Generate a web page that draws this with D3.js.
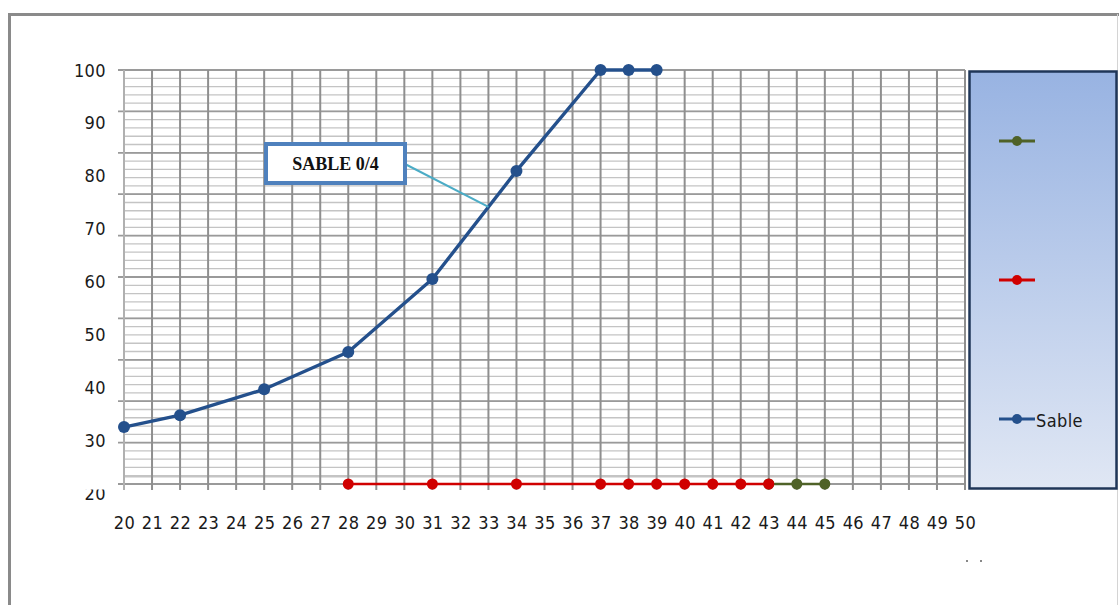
<!DOCTYPE html>
<html>
<head>
<meta charset="utf-8">
<script src="https://cdn.jsdelivr.net/npm/d3@7"></script>
<style>
  html, body { margin: 0; padding: 0; background: #fff; }
  svg { display: block; }
  .lbl { font-family: "Liberation Sans Narrow", "DejaVu Sans Condensed", "Liberation Sans", Arial, sans-serif;
         font-stretch: condensed; font-size: 18px; letter-spacing: 0.4px; fill: #1a1a1a; }
</style>
</head>
<body>
<svg id="chart" width="1119" height="605"></svg>
<script>
// Category axis labels (one gridline per category)
const categories = ["20","21","22","23","24","25","26","27","28","29","30","31","32","33","34","35",
                    "36","37","38","39","40","41","42","43","44","45","46","47","48","49","50"];

// Value axis labels
const yTickLabels = [100, 90, 80, 70, 60, 50, 40, 30, 20];

// Series: Sable
const sableCats = ["20","22","25","28","31","34","37","38","39"];
const sableVals = [31, 33.3, 38.3, 45.5, 59.6, 80.5, 100, 100, 100];

// Series: red
const redCats = ["28","31","34","37","38","39","40","41","42","43"];
const redVals = [20, 20, 20, 20, 20, 20, 20, 20, 20, 20];

// Series: green
const greenCats = ["43","44","45"];
const greenVals = [20, 20, 20];

// Legend entries (top to bottom)
const legendNames = ["", "", "Sable"];

const colors = { sable: "#24508c", red: "#d00000", green: "#4f6228" };

const svg = d3.select("#chart");

// Outer chart frame
svg.append("path")
  .attr("d", "M9.5,605 L9.5,14.5 L1119,14.5")
  .attr("fill", "none").attr("stroke", "#8a8a8a").attr("stroke-width", 3);
svg.append("line")
  .attr("x1", 1117.5).attr("x2", 1117.5).attr("y1", 14).attr("y2", 605)
  .attr("stroke", "#d4d4d4").attr("stroke-width", 1);

const plot = { left: 124, right: 965, top: 70, bottom: 484 };

const x = d3.scalePoint().domain(categories).range([plot.left, plot.right]);
const y = d3.scaleLinear().domain([20, 100]).range([plot.bottom, plot.top]);
// Value labels sit on their own spacing along the axis
const yLabel = d3.scaleLinear().domain([20, 100]).range([493, 70]);

const grid = svg.append("g");

// Minor horizontal gridlines
const minorVals = d3.range(0, 51).map(i => 20 + i * 1.6);
grid.selectAll("line.minor").data(minorVals).join("line")
  .attr("x1", plot.left).attr("x2", plot.right)
  .attr("y1", d => y(d)).attr("y2", d => y(d))
  .attr("stroke", "#c4c4c4").attr("stroke-width", 1.3);
// Doubled line just above the axis
grid.append("line")
  .attr("x1", plot.left).attr("x2", plot.right)
  .attr("y1", y(21.4)).attr("y2", y(21.4))
  .attr("stroke", "#c4c4c4").attr("stroke-width", 1.3);

// Major horizontal gridlines (with tick marks out to the left)
const majorVals = d3.range(0, 11).map(i => 20 + i * 8);
grid.selectAll("line.major").data(majorVals).join("line")
  .attr("x1", plot.left - 6).attr("x2", plot.right)
  .attr("y1", d => y(d)).attr("y2", d => y(d))
  .attr("stroke", "#9a9a9a").attr("stroke-width", 1.8);

// Vertical gridlines at every category, with ticks below the axis
grid.selectAll("line.v").data(categories).join("line")
  .attr("x1", d => x(d)).attr("x2", d => x(d))
  .attr("y1", plot.top).attr("y2", plot.bottom + 6)
  .attr("stroke", d => d === "20" ? "#b0b0b0" : "#8f8f8f")
  .attr("stroke-width", 2);

// Category labels
svg.append("g").selectAll("text").data(categories).join("text")
  .attr("class", "lbl")
  .attr("x", d => x(d) + 0.5).attr("y", 522)
  .attr("text-anchor", "middle").attr("dominant-baseline", "central")
  .text(d => d);

// Value labels
svg.append("g").selectAll("text").data(yTickLabels).join("text")
  .attr("class", "lbl")
  .attr("x", 106).attr("y", d => yLabel(d))
  .attr("text-anchor", "end").attr("dominant-baseline", "central")
  .text(d => d);
// The lowest label is partly hidden under the plot edge
svg.append("rect").attr("x", 70).attr("y", 477).attr("width", 44).attr("height", 12.5).attr("fill", "#fff");

// Series drawing
const line = d3.line().x(d => x(d.c)).y(d => y(d.v));
function drawSeries(cats, vals, color, width, r) {
  const pts = cats.map((c, i) => ({ c, v: vals[i] }));
  const g = svg.append("g");
  g.append("path").datum(pts).attr("d", line)
    .attr("fill", "none").attr("stroke", color).attr("stroke-width", width)
    .attr("stroke-linejoin", "round");
  g.selectAll("circle").data(pts).join("circle")
    .attr("cx", d => x(d.c)).attr("cy", d => y(d.v)).attr("r", r)
    .attr("fill", color);
}
drawSeries(greenCats, greenVals, colors.green, 2.6, 5.5);
drawSeries(redCats, redVals, colors.red, 2.6, 5.5);
drawSeries(sableCats, sableVals, colors.sable, 3.4, 6);

// Callout pointing at the Sable curve between 31 and 34
const i31 = sableCats.indexOf("31"), i34 = sableCats.indexOf("34");
const anchorX = x("33");
const t = (anchorX - x("31")) / (x("34") - x("31"));
const anchorY = y(sableVals[i31] + (sableVals[i34] - sableVals[i31]) * t);
svg.append("line")
  .attr("x1", 405).attr("y1", 164).attr("x2", anchorX).attr("y2", anchorY)
  .attr("stroke", "#4bacc6").attr("stroke-width", 2);
svg.append("rect")
  .attr("x", 266).attr("y", 144).attr("width", 139).attr("height", 39)
  .attr("fill", "#fff").attr("stroke", "#4f81bd").attr("stroke-width", 4);
svg.append("text")
  .attr("x", 335.5).attr("y", 164)
  .attr("text-anchor", "middle").attr("dominant-baseline", "central")
  .attr("font-family", "'Liberation Serif', 'Times New Roman', serif")
  .attr("font-weight", "bold").attr("font-size", 18).attr("fill", "#111")
  .text("SABLE 0/4");

// Legend
const defs = svg.append("defs");
const grad = defs.append("linearGradient").attr("id", "legendFill")
  .attr("x1", 0).attr("y1", 0).attr("x2", 0).attr("y2", 1);
grad.append("stop").attr("offset", "0%").attr("stop-color", "#98b3e2");
grad.append("stop").attr("offset", "100%").attr("stop-color", "#e0e7f4");

svg.append("rect")
  .attr("x", 969.5).attr("y", 71.5).attr("width", 147).attr("height", 417)
  .attr("fill", "url(#legendFill)").attr("stroke", "#1f3658").attr("stroke-width", 2.5);

const legendColors = [colors.green, colors.red, colors.sable];
const legendY = [141, 280, 419];
const lg = svg.append("g").selectAll("g").data(legendNames).join("g")
  .attr("transform", (d, i) => `translate(0,${legendY[i]})`);
lg.append("line").attr("x1", 999).attr("x2", 1035).attr("y1", 0).attr("y2", 0)
  .attr("stroke", (d, i) => legendColors[i]).attr("stroke-width", 3);
lg.append("circle").attr("cx", 1017).attr("cy", 0).attr("r", 5)
  .attr("fill", (d, i) => legendColors[i]);
lg.append("text").attr("class", "lbl")
  .attr("x", 1036).attr("y", 1).attr("dominant-baseline", "central")
  .text(d => d);

// Two small dots below the legend
svg.append("g").selectAll("rect").data([966, 980]).join("rect")
  .attr("x", d => d).attr("y", 560).attr("width", 2).attr("height", 2)
  .attr("fill", "#888");
</script>
</body>
</html>
